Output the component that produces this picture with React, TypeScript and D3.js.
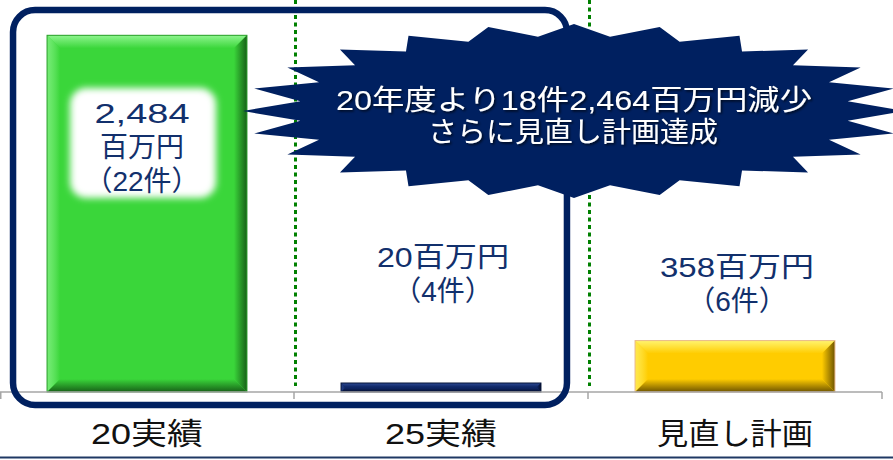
import React from "react";
import * as d3 from "d3";

// values
const categories = ["20実績", "25実績", "見直し計画"];
const amounts = [2484, 20, 358]; // 百万円
const amountLabels = ["2,484", "20", "358"];
const counts = [22, 4, 6]; // 件
const headline = ["20年度より18件2,464百万円減少", "さらに見直し計画達成"];

const width = 893;
const height = 460;
const baseY = 392;
const font = "'Liberation Sans', 'Noto Sans CJK JP', sans-serif";
const navy = "#002060";
const labelNavy = "#12306c";

// bar colours: base, bevel light, bevel dark, outline
const themes = [
  { base: "#3ad63a", light: "#8ef58e", dark: "#176017", edge: "#2b9e2b" },
  { base: "#0f2766", light: "#2d4a95", dark: "#040c2a", edge: "#061438" },
  { base: "#ffcc00", light: "#fff46e", dark: "#6e5400", edge: "#e9b98e" },
];

// where the hand placed value labels sit (first baseline)
const labelTop = [123, 267, 277];

const x = d3
  .scaleBand<string>()
  .domain(categories)
  .range([0, 882])
  .paddingInner(0.32)
  .paddingOuter(0.16);

const y = d3.scaleLinear().domain([0, 2500]).range([baseY, 33]);

// 24-point explosion shape
const burstCx = 574;
const burstCy = 111;
const burstPts: [number, number][] = d3.range(48).map((i) => {
  const a = (i * 7.5 * Math.PI) / 180;
  const rx = i % 2 === 0 ? 331 : 276;
  const ry = i % 2 === 0 ? 87 : 75;
  return [burstCx + rx * Math.sin(a), burstCy - ry * Math.cos(a)];
});
const burstPath = d3.line()(burstPts) + "Z";

function Bar({ i }: { i: number }) {
  const t = themes[i];
  const x0 = x(categories[i])!;
  const w = x.bandwidth();
  const y0 = Math.min(y(amounts[i]), baseY - 9);
  const h = baseY - y0;
  const b = Math.min(13, h / 2 - 0.5, w / 2);
  const x1 = x0 + w;
  const y1 = y0 + h;
  const poly = (p: number[][]) => p.map((d) => d.join(",")).join(" ");
  return (
    <g>
      <rect x={x0} y={y0} width={w} height={h} fill={t.base} />
      <polygon points={poly([[x0, y0], [x1, y0], [x1 - b, y0 + b], [x0 + b, y0 + b]])} fill={`url(#g${i}t)`} />
      <polygon points={poly([[x0, y0], [x0 + b, y0 + b], [x0 + b, y1 - b], [x0, y1]])} fill={`url(#g${i}l)`} />
      <polygon points={poly([[x1, y0], [x1, y1], [x1 - b, y1 - b], [x1 - b, y0 + b]])} fill={`url(#g${i}r)`} />
      <polygon points={poly([[x0, y1], [x0 + b, y1 - b], [x1 - b, y1 - b], [x1, y1]])} fill={`url(#g${i}b)`} />
      <rect x={x0} y={y0} width={w} height={h} fill="none" stroke={t.edge} strokeWidth={1} />
    </g>
  );
}

export default function App() {
  const step = x.step();
  const bw = x.bandwidth();
  const boxLeft = x(categories[0])! - 34;
  const boxRight = x(categories[1])! + bw + 26;
  const cx0 = x(categories[0])! + bw / 2 - 5;

  return (
    <svg
      width={width}
      height={height}
      style={{ position: "absolute", left: 0, top: 0, background: "#fff" }}
      fontFamily={font}
    >
      <defs>
        {themes.map((t, i) => (
          <React.Fragment key={i}>
            <linearGradient id={`g${i}t`} x1="0" y1="0" x2="0" y2="1">
              <stop offset="0" stopColor={t.light} />
              <stop offset="1" stopColor={t.base} />
            </linearGradient>
            <linearGradient id={`g${i}l`} x1="0" y1="0" x2="1" y2="0">
              <stop offset="0" stopColor={t.light} stopOpacity={0.7} />
              <stop offset="1" stopColor={t.base} />
            </linearGradient>
            <linearGradient id={`g${i}r`} x1="1" y1="0" x2="0" y2="0">
              <stop offset="0" stopColor={t.dark} />
              <stop offset="1" stopColor={t.base} />
            </linearGradient>
            <linearGradient id={`g${i}b`} x1="0" y1="1" x2="0" y2="0">
              <stop offset="0" stopColor={t.dark} />
              <stop offset="1" stopColor={t.base} />
            </linearGradient>
          </React.Fragment>
        ))}
        <filter id="soft" x="-20%" y="-20%" width="140%" height="140%">
          <feGaussianBlur stdDeviation="3.5" />
        </filter>
        <filter id="shadow" x="-5%" y="-20%" width="110%" height="140%">
          <feDropShadow dx="1.5" dy="1.5" stdDeviation="0.8" floodColor="#000" floodOpacity="0.7" />
        </filter>
      </defs>

      {/* dotted separators between categories */}
      {[1, 2].map((k) => (
        <line
          key={k}
          x1={step * k + 1.5}
          x2={step * k + 1.5}
          y1={0}
          y2={386}
          stroke="#008000"
          strokeWidth={3}
          strokeDasharray="4 3.5"
        />
      ))}

      {categories.map((c, i) => (
        <Bar key={c} i={i} />
      ))}

      {/* category axis */}
      <line x1={0} x2={step * 3} y1={baseY} y2={baseY} stroke="#a6a6a6" strokeWidth={1.5} />
      {[0, 1, 2, 3].map((k) => (
        <line
          key={k}
          x1={Math.max(0.75, step * k)}
          x2={Math.max(0.75, step * k)}
          y1={baseY}
          y2={baseY + 7}
          stroke="#a6a6a6"
          strokeWidth={1.5}
        />
      ))}
      {categories.map((c, i) => (
        <text
          key={c}
          x={x(c)! + bw / 2}
          y={444}
          textAnchor="middle"
          fontSize={30}
          fill="#111"
          textLength={i < 2 ? 112 : 156}
          lengthAdjust="spacingAndGlyphs"
        >
          {c}
        </text>
      ))}

      {/* outline around the actuals */}
      <rect
        x={boxLeft}
        y={10}
        width={boxRight - boxLeft}
        height={baseY + 13 - 10}
        rx={22}
        fill="none"
        stroke={navy}
        strokeWidth={6.5}
      />

      {/* headline explosion */}
      <path d={burstPath} fill={navy} />
      <g filter="url(#shadow)" fill="#fff" fontSize={28.5} textAnchor="middle">
        <text x={burstCx} y={110} textLength={476} lengthAdjust="spacingAndGlyphs">
          {headline[0]}
        </text>
        <text x={burstCx - 1} y={142} textLength={290} lengthAdjust="spacingAndGlyphs">
          {headline[1]}
        </text>
      </g>

      {/* value labels */}
      <rect
        x={x(categories[0])! + 23}
        y={labelTop[0] - 35}
        width={146}
        height={110}
        rx={16}
        fill="#fff"
        filter="url(#soft)"
      />
      <g fill={labelNavy} fontSize={28} textAnchor="middle">
        <text x={cx0} y={labelTop[0]} textLength={95} lengthAdjust="spacingAndGlyphs">
          {amountLabels[0]}
        </text>
        <text x={cx0} y={labelTop[0] + 34}>
          百万円
        </text>
        <text x={cx0} y={labelTop[0] + 68}>
          （{counts[0]}件）
        </text>
        {[1, 2].map((i) => (
          <React.Fragment key={i}>
            <text
              x={x(categories[i])! + bw / 2 + 2}
              y={labelTop[i]}
              textLength={i === 1 ? 132 : 154}
              lengthAdjust="spacingAndGlyphs"
            >
              {amountLabels[i]}百万円
            </text>
            <text x={x(categories[i])! + bw / 2 + 2} y={labelTop[i] + 34}>
              （{counts[i]}件）
            </text>
          </React.Fragment>
        ))}
      </g>

      {/* slide rule at bottom */}
      <line x1={0} x2={width} y1={457.5} y2={457.5} stroke="#1f3864" strokeWidth={2} />
    </svg>
  );
}
